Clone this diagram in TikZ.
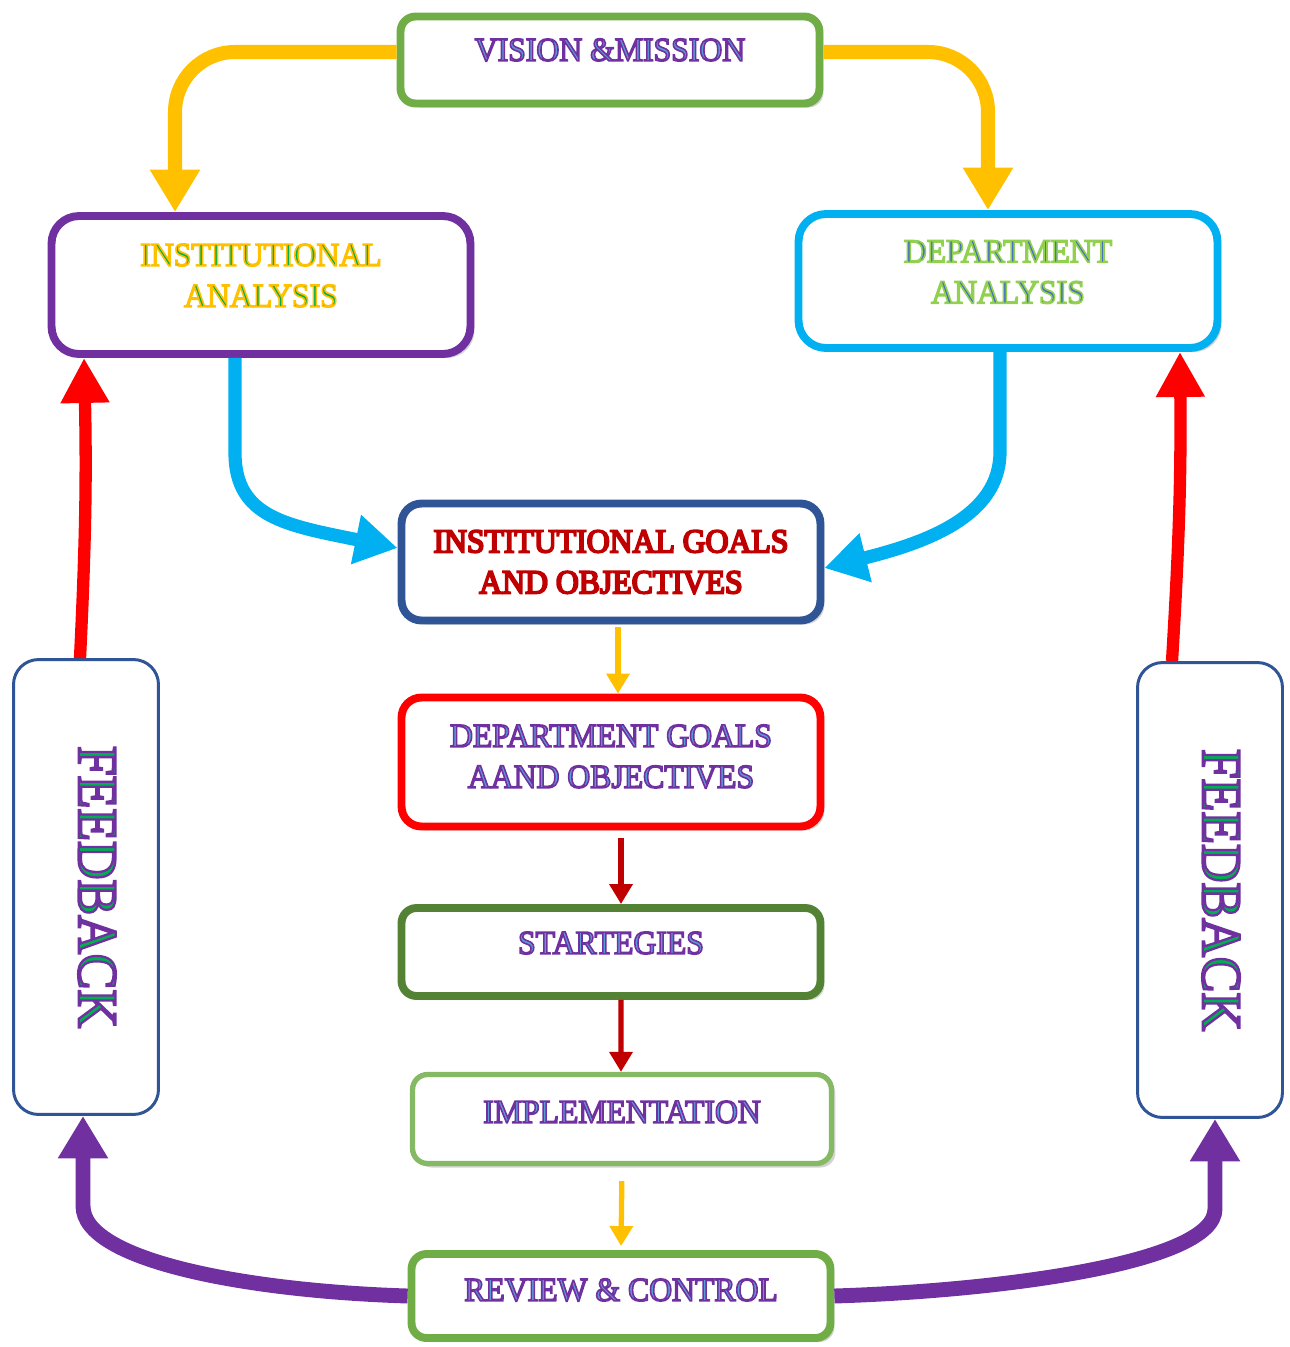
\documentclass[tikz,border=0pt]{standalone}
\usepackage{fontspec}
\setmainfont{Liberation Serif}[FakeStretch=0.95]
\usepackage{tikz}
\usetikzlibrary{arrows.meta,positioning,shadows}
\usepackage{xcolor}

\definecolor{mgreen}{HTML}{70AD47}
\definecolor{dgreen}{HTML}{548235}
\definecolor{lgreen}{HTML}{92D050}
\definecolor{tgreen}{HTML}{00B050}
\definecolor{mpurple}{HTML}{7030A0}
\definecolor{mgold}{HTML}{FFC000}
\definecolor{mcyan}{HTML}{00B0F0}
\definecolor{mblue}{HTML}{2F5597}
\definecolor{lblue}{HTML}{5B9BD5}
\definecolor{tblue}{HTML}{4472C4}
\definecolor{mred}{HTML}{FF0000}
\definecolor{dred}{HTML}{C00000}

% outlined letters: fill colour, pdf stroke settings, text
\newcommand{\wordart}[3]{\textcolor{#1}{\special{pdf:literal direct 2 Tr #2}#3\special{pdf:literal direct 0 Tr}}}
\newcommand{\skpurple}{0.9 w 0.439 0.188 0.627 RG}
\newcommand{\skgold}{0.9 w 1 0.753 0 RG}
\newcommand{\sklgreen}{0.9 w 0.573 0.816 0.314 RG}
\newcommand{\skdred}{1.1 w 0.753 0 0 RG}
\newcommand{\skfeed}{1.3 w 0.439 0.188 0.627 RG}

\tikzset{
  flowbox/.style={draw, fill=white, rounded corners=0.4cm, line width=4.5pt,
    minimum width=8.38cm, drop shadow={opacity=0.35, shadow xshift=0.08cm, shadow yshift=-0.08cm}},
  fbbox/.style={draw=mblue, fill=white, rounded corners=0.5cm, line width=1.7pt,
    minimum width=2.9cm, minimum height=9.1cm},
  boxtxt/.style={font=\fontsize{19}{23.3}\selectfont, align=center},
  fbtxt/.style={font=\fontsize{32}{36}\selectfont},
  bigarrow/.style={line width=8pt, -{Triangle[length=0.85cm,width=0.95cm]}},
  redarrow/.style={mred, line width=7pt, -{Triangle[length=0.9cm,width=0.92cm]}},
  smallarrow/.style={line width=3pt, -{Triangle[length=0.4cm,width=0.45cm]}},
}

\begin{document}
\begin{tikzpicture}[x=0.02cm, y=-0.02cm]
    \useasboundingbox (0,0) rectangle (1290,1347);

    \node[flowbox, draw=mgreen, minimum height=1.74cm, rounded corners=0.3cm,
      label={[boxtxt, yshift=0.2cm]center:\wordart{lblue}{\skpurple}{VISION \&MISSION}}] (vm) at (610,60) {};
    \node[flowbox, draw=mpurple, minimum height=2.76cm, rounded corners=0.55cm,
      label={[boxtxt, yshift=0.19cm]center:\wordart{tgreen}{\skgold}{INSTITUTIONAL}\\\wordart{tgreen}{\skgold}{ANALYSIS}}] (ia) at (261,285) {};
    \node[flowbox, draw=mcyan, minimum height=2.68cm, rounded corners=0.55cm,
      label={[boxtxt, yshift=0.18cm]center:\wordart{tblue}{\sklgreen}{DEPARTMENT}\\\wordart{tblue}{\sklgreen}{ANALYSIS}}] (da) at (1008,281) {};
    \node[flowbox, draw=mblue, minimum height=2.34cm,
      label={[boxtxt]center:\wordart{dred}{\skdred}{INSTITUTIONAL GOALS}\\\wordart{dred}{\skdred}{AND OBJECTIVES}}] (ig) at (611,562) {};
    \node[flowbox, draw=mred, minimum height=2.58cm,
      label={[boxtxt, yshift=0.11cm]center:\wordart{lblue}{\skpurple}{DEPARTMENT GOALS}\\\wordart{lblue}{\skpurple}{AAND OBJECTIVES}}] (dg) at (611,762) {};
    \node[flowbox, draw=dgreen, minimum height=1.76cm, rounded corners=0.3cm,
      label={[boxtxt, yshift=0.18cm]center:\wordart{lblue}{\skpurple}{STARTEGIES}}] (st) at (611,952) {};
    \node[flowbox, draw=mgreen!85, line width=3pt, minimum height=1.78cm, rounded corners=0.3cm,
      label={[boxtxt, yshift=0.14cm]center:\wordart{lblue}{\skpurple}{IMPLEMENTATION}}] (im) at (622,1119) {};
    \node[flowbox, draw=mgreen, minimum height=1.68cm, rounded corners=0.3cm,
      label={[boxtxt, yshift=0.12cm]center:\wordart{lblue}{\skpurple}{REVIEW \& CONTROL}}] (rc) at (621,1296) {};

    \node[fbbox, label={[fbtxt, xshift=0.22cm, rotate=-90]center:\wordart{tgreen}{\skfeed}{FEEDBACK}}] (fbl) at (86,887) {};
    \node[fbbox, label={[fbtxt, xshift=0.22cm, rotate=-90]center:\wordart{tgreen}{\skfeed}{FEEDBACK}}] (fbr) at (1210,890) {};

    % mission to the two analyses
    \draw[bigarrow, mgold, rounded corners=1.2cm] ([yshift=0.16cm]vm.west) -| ([xshift=-1.72cm]ia.north);
    \draw[bigarrow, mgold, rounded corners=1.2cm] ([yshift=0.16cm]vm.east) -| ([xshift=-0.4cm]da.north);

    % analyses into the goals
    \draw[bigarrow, mcyan, line width=7.5pt] ([xshift=-0.52cm]ia.south) -- ++(0,-1.9cm)
      .. controls +(0,-1.3cm) and +(-2.2cm,0.45cm) .. ([yshift=0.28cm]ig.west);
    \draw[bigarrow, mcyan, line width=7.5pt] ([xshift=-0.16cm]da.south) -- ++(0,-2.0cm)
      .. controls +(0,-1.3cm) and +(2.0cm,0.5cm) .. ([yshift=-0.12cm]ig.east);

    % the middle chain
    \draw[smallarrow, mgold, shorten <=0.06cm] ([xshift=0.14cm]ig.south) -- ([xshift=0.14cm]dg.north);
    \draw[smallarrow, dred, shorten <=0.16cm] ([xshift=0.2cm]dg.south) -- ([xshift=0.2cm]st.north);
    \draw[smallarrow, dred] ([xshift=0.2cm]st.south) -- ([xshift=-0.02cm]im.north);
    \draw[smallarrow, mgold, shorten <=0.3cm, shorten >=0.08cm] (im.south) -- (rc.north);

    % review back to feedback
    \draw[bigarrow, mpurple, line width=8.5pt] (rc.west) .. controls +(-3.2cm,0.1cm) and +(0,-1.1cm)
      .. ([xshift=-0.06cm, yshift=-1.8cm]fbl.south) -- ([xshift=-0.06cm]fbl.south);
    \draw[bigarrow, mpurple, line width=8.5pt] (rc.east) .. controls +(3.2cm,0.1cm) and +(0,-1.1cm)
      .. ([xshift=0.1cm, yshift=-1.8cm]fbr.south) -- ([xshift=0.1cm]fbr.south);

    % feedback up to the analyses
    \draw[redarrow] ([xshift=-0.12cm]fbl.north) to[bend right=2] ([xshift=-3.54cm]ia.south);
    \draw[redarrow] ([xshift=-0.76cm]fbr.north) to[bend right=2] ([xshift=3.44cm]da.south);
\end{tikzpicture}
\end{document}
